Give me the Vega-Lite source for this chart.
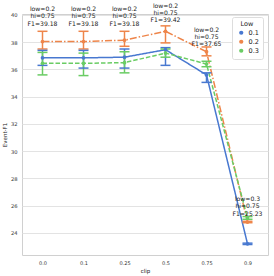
{
  "$schema": "https://vega.github.io/schema/vega-lite/v6.json",
  "width": 246,
  "height": 241,
  "autosize": "none",
  "padding": {"left": 22, "top": 14, "right": 6, "bottom": 21},
  "background": "white",
  "config": {
    "font": "DejaVu Sans",
    "view": {"stroke": "#d0d0d0", "strokeWidth": 1},
    "axis": {"domain": false, "ticks": false, "labelColor": "#333333", "titleColor": "#222222", "gridColor": "#e3e3e3", "gridWidth": 1, "labelFont": "DejaVu Sans", "titleFont": "DejaVu Sans", "titleFontWeight": "normal", "labelOverlap": false}
  },
  "datasets": {
    "series": [
      {"clip": "0.0", "low": "0.1", "mean": 36.85, "lo": 36.3, "hi": 37.4},
      {"clip": "0.1", "low": "0.1", "mean": 36.85, "lo": 36.1, "hi": 37.4},
      {"clip": "0.25", "low": "0.1", "mean": 36.9, "lo": 36.1, "hi": 37.5},
      {"clip": "0.5", "low": "0.1", "mean": 37.45, "lo": 36.3, "hi": 37.6},
      {"clip": "0.75", "low": "0.1", "mean": 35.6, "lo": 35.05, "hi": 35.75},
      {"clip": "0.9", "low": "0.1", "mean": 23.2, "lo": 23.15, "hi": 23.25},
      {"clip": "0.0", "low": "0.2", "mean": 38.05, "lo": 37.5, "hi": 38.8},
      {"clip": "0.1", "low": "0.2", "mean": 38.05, "lo": 37.5, "hi": 38.8},
      {"clip": "0.25", "low": "0.2", "mean": 38.15, "lo": 37.7, "hi": 38.8},
      {"clip": "0.5", "low": "0.2", "mean": 38.8, "lo": 37.95, "hi": 39.2},
      {"clip": "0.75", "low": "0.2", "mean": 37.3, "lo": 37.0, "hi": 37.65},
      {"clip": "0.9", "low": "0.2", "mean": 24.8, "lo": 24.75, "hi": 24.85},
      {"clip": "0.0", "low": "0.3", "mean": 36.45, "lo": 35.6, "hi": 37.25},
      {"clip": "0.1", "low": "0.3", "mean": 36.45, "lo": 35.55, "hi": 37.2},
      {"clip": "0.25", "low": "0.3", "mean": 36.5, "lo": 35.75, "hi": 37.3},
      {"clip": "0.5", "low": "0.3", "mean": 37.2, "lo": 36.9, "hi": 37.5},
      {"clip": "0.75", "low": "0.3", "mean": 36.4, "lo": 36.2, "hi": 36.6},
      {"clip": "0.9", "low": "0.3", "mean": 25.1, "lo": 25.0, "hi": 25.2}
    ],
    "labels": [
      {"clip": "0.0", "F1": 39.18, "text": "low=0.2\nhi=0.75\nF1=39.18"},
      {"clip": "0.1", "F1": 39.18, "text": "low=0.2\nhi=0.75\nF1=39.18"},
      {"clip": "0.25", "F1": 39.18, "text": "low=0.2\nhi=0.75\nF1=39.18"},
      {"clip": "0.5", "F1": 39.42, "text": "low=0.2\nhi=0.75\nF1=39.42"},
      {"clip": "0.75", "F1": 37.65, "text": "low=0.2\nhi=0.75\nF1=37.65"},
      {"clip": "0.9", "F1": 25.23, "text": "low=0.3\nhi=0.75\nF1=25.23"}
    ]
  },
  "encoding": {
    "x": {
      "field": "clip", "type": "ordinal",
      "scale": {"type": "point", "domain": ["0.0", "0.1", "0.25", "0.5", "0.75", "0.9"], "padding": 0.5},
      "axis": {"title": "clip", "labelAngle": 0, "labelFontSize": 5, "labelPadding": 5, "titleFontSize": 5.5, "titlePadding": 3, "grid": false}
    },
    "y": {"field": "mean", "type": "quantitative", "scale": {"domain": [22.38, 40.07], "nice": false, "zero": false},
      "axis": {"title": "Event-F1", "tickCount": 9, "values": [24, 26, 28, 30, 32, 34, 36, 38, 40], "labelFontSize": 5.2, "labelPadding": 5, "titleFontSize": 5.5, "titlePadding": 3, "labelOverlap": false, "labelBound": false, "labelFlush": false}}
  },
  "layer": [
    {
      "data": {"name": "series"},
      "mark": {"type": "line", "strokeWidth": 1.5},
      "encoding": {
        "color": {"field": "low", "type": "nominal", "scale": {"domain": ["0.1", "0.2", "0.3"], "range": ["#4878d0", "#ee854a", "#6acc64"]},
          "legend": {"title": "Low", "symbolType": "circle", "orient": "none", "legendX": 210, "legendY": 3, "titleAnchor": "middle", "titleFontSize": 6.5, "titleFontWeight": "normal", "labelFontSize": 6.5, "symbolSize": 18, "symbolStrokeWidth": 0, "rowPadding": 2, "padding": 4, "strokeColor": "#dddddd", "fillColor": "white", "cornerRadius": 2, "labelColor": "#222", "titleColor": "#222", "titlePadding": 2, "symbolOffset": 2}},
        "strokeDash": {"field": "low", "type": "nominal", "scale": {"domain": ["0.1", "0.2", "0.3"], "range": [[1, 0], [7, 2, 1.5, 2], [4.5, 2]]}, "legend": null}
      }
    },
    {
      "data": {"name": "series"},
      "mark": {"type": "rule", "strokeWidth": 1.5},
      "encoding": {
        "y": {"field": "lo", "type": "quantitative"},
        "y2": {"field": "hi"},
        "color": {"field": "low", "type": "nominal"}
      }
    },
    {
      "data": {"name": "series"},
      "mark": {"type": "tick", "size": 10, "thickness": 1.5, "opacity": 1},
      "encoding": {
        "y": {"field": "lo", "type": "quantitative"},
        "color": {"field": "low", "type": "nominal"}
      }
    },
    {
      "data": {"name": "series"},
      "mark": {"type": "tick", "size": 10, "thickness": 1.5, "opacity": 1},
      "encoding": {
        "y": {"field": "hi", "type": "quantitative"},
        "color": {"field": "low", "type": "nominal"}
      }
    },
    {
      "data": {"name": "series"},
      "mark": {"type": "point", "filled": true, "size": 14, "opacity": 1, "shape": "circle"},
      "encoding": {
        "color": {"field": "low", "type": "nominal"}
      }
    },
    {
      "data": {"name": "labels"},
      "mark": {"type": "text", "lineBreak": "\n", "baseline": "bottom", "align": "center", "fontSize": 6.1, "lineHeight": 7.2, "color": "#222222", "dy": -14},
      "encoding": {
        "y": {"field": "F1", "type": "quantitative"},
        "text": {"field": "text", "type": "nominal"}
      }
    }
  ]
}
